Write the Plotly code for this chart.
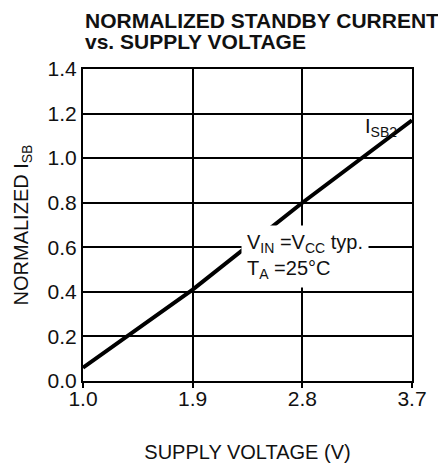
import plotly.graph_objects as go

# Data
voltage = [1.0, 1.9, 2.8, 3.7]
isb2 = [0.06, 0.41, 0.80, 1.17]
x_ticks = [1.0, 1.9, 2.8, 3.7]
x_ticklabels = ["1.0", "1.9", "2.8", "3.7"]
y_ticks = [0.0, 0.2, 0.4, 0.6, 0.8, 1.0, 1.2, 1.4]
y_ticklabels = ["0.0", "0.2", "0.4", "0.6", "0.8", "1.0", "1.2", "1.4"]

FONT = "Liberation Sans, Arial, sans-serif"
TXT = "#111"

fig = go.Figure()
fig.add_trace(go.Scatter(x=voltage, y=isb2, mode="lines",
                         line=dict(color="black", width=4), showlegend=False,
                         hoverinfo="skip"))

# The page body adds an 8px margin, so the figure is sized/margined to compensate
fig.update_layout(
    width=438, height=456,
    margin=dict(l=75, r=34, t=61, b=83),
    paper_bgcolor="white", plot_bgcolor="white",
    font=dict(family=FONT, size=21, color=TXT),
    xaxis=dict(range=[1.0, 3.7], tickvals=x_ticks, ticktext=x_ticklabels,
               showgrid=True, gridcolor="black", gridwidth=2,
               showline=True, linecolor="black", linewidth=2, mirror=True,
               ticks="outside", ticklen=5, tickwidth=2, tickcolor="black",
               ticklabelstandoff=-7,
               tickfont=dict(size=21), zeroline=False, automargin=False,
               title=dict(text="SUPPLY VOLTAGE (V)", standoff=36,
                          font=dict(size=20))),
    yaxis=dict(range=[0.0, 1.4], tickvals=y_ticks, ticktext=y_ticklabels,
               showgrid=True, gridcolor="black", gridwidth=2,
               showline=True, linecolor="black", linewidth=2, mirror=True,
               ticks="", tickfont=dict(size=21), zeroline=False,
               automargin=False,
               title=dict(text="NORMALIZED I<sub>SB</sub>", standoff=14,
                          font=dict(size=20))),
)

# Title lines
fig.add_annotation(xref="paper", yref="paper", x=0, y=1.157, xanchor="left",
                   yanchor="middle", showarrow=False,
                   text="<b>NORMALIZED STANDBY CURRENT</b>",
                   font=dict(family=FONT, size=21, color=TXT))
fig.add_annotation(xref="paper", yref="paper", x=0, y=1.0897, xanchor="left",
                   yanchor="middle", showarrow=False,
                   text="<b>vs. SUPPLY VOLTAGE</b>",
                   font=dict(family=FONT, size=21, color=TXT))

# Condition box
fig.add_annotation(x=2.82, y=0.56, xref="x", yref="y", showarrow=False,
                   xanchor="center", yanchor="middle", align="left",
                   text="V<sub>IN</sub> =V<sub>CC</sub> typ.<br>T<sub>A</sub> =25°C",
                   bgcolor="white", borderpad=5,
                   font=dict(family=FONT, size=20, color=TXT))

# Curve label
fig.add_annotation(x=3.445, y=1.137, xref="x", yref="y", showarrow=False,
                   xanchor="center", yanchor="middle",
                   text="I<sub>SB2</sub>",
                   font=dict(family=FONT, size=20, color=TXT))

fig.write_html("out.html")
